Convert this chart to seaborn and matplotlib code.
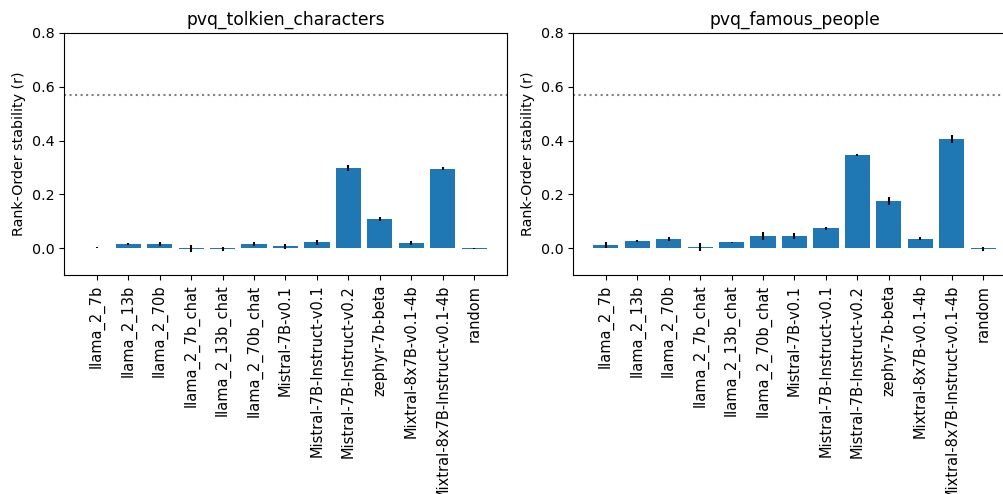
import matplotlib
matplotlib.use("Agg")
import matplotlib.pyplot as plt
import seaborn as sns
import pandas as pd
import numpy as np

models = ["llama_2_7b", "llama_2_13b", "llama_2_70b", "llama_2_7b_chat",
          "llama_2_13b_chat", "llama_2_70b_chat", "Mistral-7B-v0.1",
          "Mistral-7B-Instruct-v0.1", "Mistral-7B-Instruct-v0.2", "zephyr-7b-beta",
          "Mixtral-8x7B-v0.1-4b", "Mixtral-8x7B-Instruct-v0.1-4b", "random"]

tolkien_mean = [0.001, 0.015, 0.015, -0.003, -0.004, 0.015, 0.007, 0.022,
                0.299, 0.107, 0.019, 0.295, -0.002]
tolkien_err = [0.002, 0.004, 0.009, 0.013, 0.007, 0.009, 0.009, 0.009,
               0.011, 0.007, 0.008, 0.005, 0.002]

famous_mean = [0.011, 0.026, 0.035, 0.004, 0.022, 0.045, 0.045, 0.073,
               0.346, 0.176, 0.035, 0.406, -0.003]
famous_err = [0.011, 0.003, 0.007, 0.015, 0.002, 0.014, 0.011, 0.007,
              0.005, 0.014, 0.005, 0.015, 0.008]

titles = ["pvq_tolkien_characters", "pvq_famous_people"]
reference_line = 0.57
ylabel = "Rank-Order stability (r)"

fig = plt.figure(figsize=(10.04, 4.94), dpi=100)
W, H = 1004, 494
ax_boxes = [(64, 33, 443, 242), (573, 33, 443, 242)]

axes = []
for (x0, y0, w, h), title, means, errs in zip(
        ax_boxes, titles, [tolkien_mean, famous_mean], [tolkien_err, famous_err]):
    ax = fig.add_axes([x0 / W, 1 - (y0 + h) / H, w / W, h / H])
    df = pd.DataFrame({"model": models, "value": means})
    sns.barplot(data=df, x="model", y="value", color="#1f77b4", saturation=1,
                width=0.8, errorbar=None, ax=ax)
    ax.errorbar(np.arange(len(models)), means, yerr=errs, fmt="none",
                ecolor="black", elinewidth=1.5)
    ax.axhline(reference_line, color="gray", linestyle=":", linewidth=1.5)
    span = (len(models) - 1) + 0.8
    ax.set_xlim(-0.4 - 0.05 * span, len(models) - 1 + 0.4 + 0.05 * span)
    ax.set_ylim(-0.1, 0.8)
    ax.set_yticks([0.0, 0.2, 0.4, 0.6, 0.8])
    ax.set_title(title, fontsize=12.3)
    ax.set_ylabel(ylabel, fontsize=10.3)
    ax.set_xlabel("")
    ax.tick_params(axis="x", labelrotation=90, labelsize=10.5)
    ax.tick_params(axis="y", labelsize=10.3)
    axes.append(ax)

# the right panel runs past the figure's right edge, as in the reference crop
axes[1].spines["right"].set_visible(False)

fig.savefig("out.png", dpi=100)
